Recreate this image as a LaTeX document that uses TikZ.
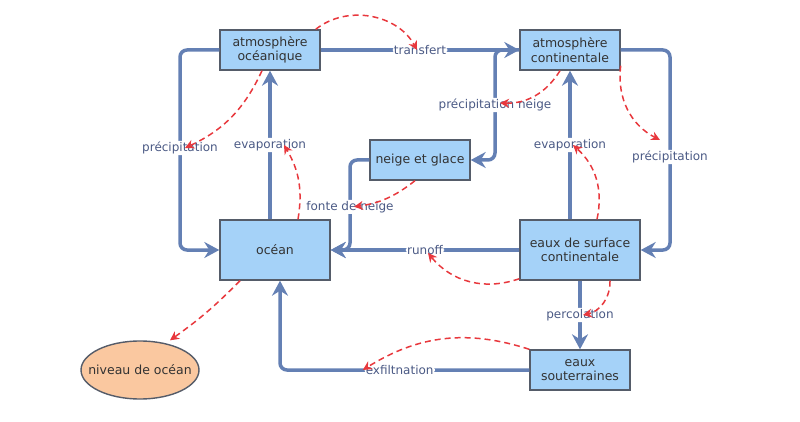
\documentclass[tikz,border=0pt]{standalone}
\usepackage{fontspec}
\setmainfont{DejaVu Sans}
\usetikzlibrary{arrows.meta,shapes.geometric}

\definecolor{flowblue}{RGB}{100,128,180}
\definecolor{boxblue}{RGB}{165,210,248}
\definecolor{boxline}{RGB}{85,92,105}
\definecolor{peach}{RGB}{250,200,160}
\definecolor{dashred}{RGB}{232,56,61}
\definecolor{lbltext}{RGB}{75,90,133}

\tikzset{
    reservoir/.style={rectangle,draw=boxline,line width=1.4pt,fill=boxblue,
        align=center,text=black!80,font=\fontsize{12.5}{14.5}\selectfont,
        minimum width=100pt,minimum height=40pt,inner sep=1pt},
    flow/.style={draw=flowblue,line width=3.5pt,rounded corners=7pt,
        -{Stealth[length=15pt,width=16pt,inset=5pt]}},
    lbl/.style={fill=white,text=lbltext,inner sep=1.2pt,
        font=\fontsize{12}{13}\selectfont},
    influence/.style={draw=dashred,line width=1.5pt,dash pattern=on 6pt off 4pt,
        -{Stealth[length=9pt,width=9pt]}}
}

\begin{document}
\begin{tikzpicture}[x=1pt,y=-1pt]
    \useasboundingbox (0,0) rectangle (800,422);

    % nodes
    \node (atmoc) at (270,50) [reservoir] {atmosphère\\océanique};
    \node (atmco) at (570,50) [reservoir] {atmosphère\\continentale};
    \node (neige) at (420,160) [reservoir] {neige et glace};
    \node (ocean) at (275,250) [reservoir,minimum width=110pt,minimum height=60pt] {océan};
    \node (surf) at (580,250) [reservoir,minimum width=120pt,minimum height=60pt] {eaux de surface\\continentale};
    \node (souter) at (580,370) [reservoir] {eaux\\souterraines};
    \node (niveau) at (140,370) [ellipse,draw=boxline,line width=1.4pt,fill=peach,
        text=black!80,font=\fontsize{12.5}{14.5}\selectfont,
        minimum width=118pt,minimum height=58pt,inner xsep=-14pt,inner ysep=0pt] {niveau de océan};

    % paths
    \draw[flow] (atmoc) -- node[lbl] (ltransfert) {transfert} (atmco);
    \draw[flow] (atmoc.west) -- (180,50) -- node[lbl,pos=0.49] (lprecoc) {précipitation} (180,250) -- (ocean.west);
    \draw[flow] (ocean.north -| atmoc.south) -- node[lbl] (levapoc) {evaporation} (atmoc.south);
    \draw[flow] (atmco.east) -- (670,50) -- node[lbl,pos=0.535] (lprecco) {précipitation} (670,250) -- (surf.east);
    \draw[flow] (surf.north -| atmco.south) -- node[lbl] (levapco) {evaporation} (atmco.south);
    \draw[flow] (atmco.west) -- (495,50) -- node[lbl] (lprecneige) {précipitation neige} (495,160) -- (neige.east);
    \draw[flow] (neige.west) -- (350,160) -- node[lbl,pos=0.52] (lfonte) {fonte de neige} (350,250) -- (ocean.east);
    \draw[flow] (surf.west) -- node[lbl] (lrunoff) {runoff} (ocean.east);
    \draw[flow] (surf.south) -- node[lbl] (lperco) {percolation} (souter.north);
    \draw[flow] (souter.west) -- node[lbl,pos=0.52] (lexfil) {exfiltnation} (280,370) -- ([xshift=5pt]ocean.south);

    % influences
    \draw[influence] ([xshift=-5pt]atmoc.north east) to[bend left=50] ([xshift=-3pt]ltransfert.center);
    \draw[influence] ([xshift=-8pt]atmoc.south) to[bend left=20] ([xshift=5pt]lprecoc.center);
    \draw[influence] ([xshift=23pt]ocean.north) to[bend right=20] ([xshift=14pt]levapoc.center);
    \draw[influence] ([xshift=-5pt]neige.south) to[bend left=15] ([xshift=4pt]lfonte.center);
    \draw[influence] ([xshift=-10pt]atmco.south) to[bend left=30] ([xshift=5pt,yshift=2pt]lprecneige.center);
    \draw[influence] ([yshift=5pt]atmco.south east) to[bend right=35] ([xshift=-10pt,yshift=17pt]lprecco.center);
    \draw[influence] ([xshift=17pt]surf.north) to[bend right=30] ([xshift=3pt]levapco.center);
    \draw[influence] ([yshift=2pt]surf.south west) to[bend left=35] ([xshift=3pt,yshift=-3pt]lrunoff.center);
    \draw[influence] ([xshift=30pt]surf.south) to[bend left=40] ([xshift=3pt]lperco.center);
    \draw[influence] (souter.north west) to[bend right=25] (lexfil.west);
    \draw[influence] ([xshift=-35pt]ocean.south) to[bend left=5] ([xshift=30pt]niveau.north);
\end{tikzpicture}
\end{document}
